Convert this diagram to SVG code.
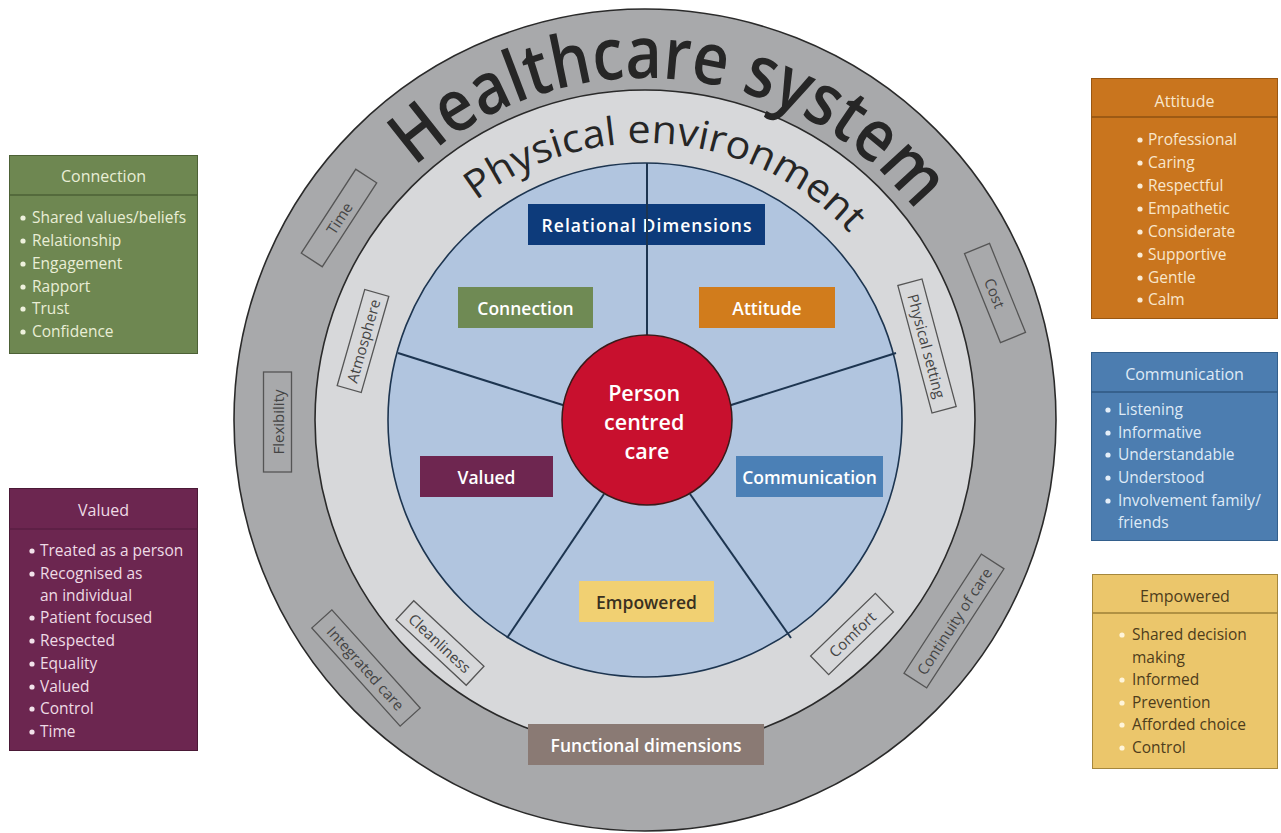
<svg xmlns="http://www.w3.org/2000/svg" width="1281" height="833" viewBox="0 0 1281 833">
  <defs>
    <style>
      .t { font-family: "Open Sans", "Noto Sans", "DejaVu Sans", sans-serif; }
      .ring-lbl rect { fill: none; stroke: #555555; stroke-width: 1.3; }
      .ring-lbl text { font-family: "Open Sans", "Noto Sans", sans-serif; font-size: 15px; fill: #444444; text-anchor: middle; dominant-baseline: central; }
      .dim rect { stroke: none; }
      .dim text { font-family: "Open Sans", "Noto Sans", sans-serif; font-size: 17.5px; font-weight: 600; text-anchor: middle; dominant-baseline: central; }
      .side .hdr { font-family: "Open Sans", "Noto Sans", sans-serif; font-size: 16px; text-anchor: middle; }
      .side .item { font-family: "Open Sans", "Noto Sans", sans-serif; font-size: 15.5px; }
      .spoke { stroke: #1d3550; stroke-width: 2; fill: none; }
    </style>
    <path id="arc-hs" d="M 303 420 A 342 342 0 1 1 981.8 479.4"/>
    <path id="arc-pe" d="M 368 420 A 277 277 0 1 1 917.8 468.1"/>
  </defs>

  <rect width="1281" height="833" fill="#ffffff"/>

  <!-- concentric rings -->
  <g id="rings">
    <circle cx="645" cy="420" r="411" fill="#a8a9ab" stroke="#2a2a2a" stroke-width="1.6"/>
    <circle cx="645" cy="420" r="330" fill="#d7d8da" stroke="#2a2a2a" stroke-width="1.6"/>
    <circle cx="645" cy="420" r="257" fill="#b1c5df" stroke="#1d3550" stroke-width="1.6"/>
  </g>

  <!-- ring titles -->
  <g id="ring-titles">
    <text class="t" font-size="72" font-weight="600" fill="#262626">
      <textPath href="#arc-hs" startOffset="50%" text-anchor="middle" textLength="565" lengthAdjust="spacingAndGlyphs">Healthcare system</textPath>
    </text>
    <text class="t" font-size="39" font-weight="400" fill="#262626">
      <textPath href="#arc-pe" startOffset="50%" text-anchor="middle" textLength="412" lengthAdjust="spacingAndGlyphs">Physical environment</textPath>
    </text>
  </g>

  <!-- outer ring factors -->
  <g id="lbl-time" class="ring-lbl" transform="translate(339 218) rotate(-57)">
    <rect x="-50" y="-12.5" width="100" height="25"/><text>Time</text>
  </g>
  <g id="lbl-flexibility" class="ring-lbl" transform="translate(277.5 422) rotate(-90)">
    <rect x="-50" y="-14" width="100" height="28"/><text>Flexibility</text>
  </g>
  <g id="lbl-integrated" class="ring-lbl" transform="translate(366 668) rotate(48)">
    <rect x="-66" y="-13.5" width="132" height="27"/><text>Integrated care</text>
  </g>
  <g id="lbl-continuity" class="ring-lbl" transform="translate(954 621) rotate(-57)">
    <rect x="-71" y="-13.5" width="142" height="27"/><text>Continuity of care</text>
  </g>
  <g id="lbl-cost" class="ring-lbl" transform="translate(995 293) rotate(68)">
    <rect x="-48" y="-13.5" width="96" height="27"/><text>Cost</text>
  </g>

  <!-- physical environment factors -->
  <g id="lbl-atmosphere" class="ring-lbl" transform="translate(363 341) rotate(-74)">
    <rect x="-50" y="-12.5" width="100" height="25"/><text>Atmosphere</text>
  </g>
  <g id="lbl-physical" class="ring-lbl" transform="translate(927 346) rotate(75)">
    <rect x="-66" y="-12.5" width="132" height="25"/><text>Physical setting</text>
  </g>
  <g id="lbl-cleanliness" class="ring-lbl" transform="translate(440 643) rotate(43)">
    <rect x="-48" y="-13" width="96" height="26"/><text>Cleanliness</text>
  </g>
  <g id="lbl-comfort" class="ring-lbl" transform="translate(852 634) rotate(-44)">
    <rect x="-45" y="-13" width="90" height="26"/><text>Comfort</text>
  </g>

  <!-- relational dimension tiles -->
  <g id="dim-relational" class="dim">
    <rect x="528" y="204" width="237" height="41" fill="#0d3b7b"/>
    <text x="646.5" y="224.5" fill="#ffffff" textLength="210" lengthAdjust="spacing">Relational Dimensions</text>
  </g>
  <g id="dim-connection" class="dim">
    <rect x="458" y="287" width="135" height="41" fill="#6f8a54"/>
    <text x="525.5" y="307.5" fill="#ffffff">Connection</text>
  </g>
  <g id="dim-attitude" class="dim">
    <rect x="699" y="287" width="136" height="41" fill="#d17c1c"/>
    <text x="767" y="307.5" fill="#ffffff">Attitude</text>
  </g>
  <g id="dim-valued" class="dim">
    <rect x="420" y="456" width="133" height="41" fill="#6e2650"/>
    <text x="486.5" y="476.5" fill="#ffffff">Valued</text>
  </g>
  <g id="dim-communication" class="dim">
    <rect x="736" y="456" width="147" height="41" fill="#4b80b6"/>
    <text x="809.5" y="476.5" fill="#ffffff">Communication</text>
  </g>
  <g id="dim-empowered" class="dim">
    <rect x="579" y="581" width="135" height="41" fill="#f1d072"/>
    <text x="646.5" y="601.5" fill="#3a3020">Empowered</text>
  </g>
  <g id="dim-functional" class="dim">
    <rect x="528" y="724" width="236" height="41" fill="#8a7a74" stroke="#5e524e" stroke-width="1"/>
    <text x="646" y="744.5" fill="#ffffff">Functional dimensions</text>
  </g>

  <!-- spokes dividing the relational circle -->
  <g id="connectors">
    <line class="spoke" x1="647" y1="335" x2="647" y2="163"/>
    <line class="spoke" x1="566" y1="406" x2="398" y2="353"/>
    <line class="spoke" x1="728" y1="406" x2="896" y2="353"/>
    <line class="spoke" x1="604" y1="494" x2="507" y2="638"/>
    <line class="spoke" x1="690" y1="494" x2="791" y2="638"/>
  </g>

  <!-- core -->
  <g id="core">
    <circle cx="647" cy="420" r="85" fill="#c8102e" stroke="#3a1a1a" stroke-width="1.5"/>
    <text class="t" x="647" font-size="21.5" font-weight="600" fill="#ffffff" text-anchor="middle">
      <tspan x="647" y="401">Person</tspan>
      <tspan x="647" y="430">centred</tspan>
      <tspan x="647" y="459">care</tspan>
    </text>
  </g>

  <!-- side legend: Connection -->
  <g id="side-connection" class="side">
    <rect x="9.5" y="155.5" width="188" height="198" fill="#6e8751" stroke="#4d6136" stroke-width="1"/>
    <line x1="9.5" y1="195" x2="197.5" y2="195" stroke="#4d6136" stroke-width="1.5"/>
    <text class="hdr" x="103.5" y="182" fill="#e9eed6">Connection</text>
    <g fill="#eef1dd">
      <circle cx="23" cy="218" r="2.6"/><circle cx="23" cy="241" r="2.6"/><circle cx="23" cy="264" r="2.6"/>
      <circle cx="23" cy="287" r="2.6"/><circle cx="23" cy="309" r="2.6"/><circle cx="23" cy="332" r="2.6"/>
    </g>
    <text class="item" fill="#e9eed6">
      <tspan x="32" y="223">Shared values/beliefs</tspan>
      <tspan x="32" y="246">Relationship</tspan>
      <tspan x="32" y="269">Engagement</tspan>
      <tspan x="32" y="292">Rapport</tspan>
      <tspan x="32" y="314">Trust</tspan>
      <tspan x="32" y="337">Confidence</tspan>
    </text>
  </g>

  <!-- side legend: Valued -->
  <g id="side-valued" class="side">
    <rect x="9.5" y="488.5" width="188" height="262" fill="#6c2650" stroke="#4a1936" stroke-width="1"/>
    <line x1="9.5" y1="529" x2="197.5" y2="529" stroke="#5a1f43" stroke-width="1.5"/>
    <text class="hdr" x="103.5" y="516" fill="#eedbe5">Valued</text>
    <g fill="#f2e2ea">
      <circle cx="32" cy="551" r="2.6"/><circle cx="32" cy="574" r="2.6"/><circle cx="32" cy="618" r="2.6"/>
      <circle cx="32" cy="641" r="2.6"/><circle cx="32" cy="664" r="2.6"/><circle cx="32" cy="687" r="2.6"/>
      <circle cx="32" cy="709" r="2.6"/><circle cx="32" cy="732" r="2.6"/>
    </g>
    <text class="item" fill="#eedbe5">
      <tspan x="40" y="556">Treated as a person</tspan>
      <tspan x="40" y="579">Recognised as</tspan>
      <tspan x="40" y="601">an individual</tspan>
      <tspan x="40" y="623">Patient focused</tspan>
      <tspan x="40" y="646">Respected</tspan>
      <tspan x="40" y="669">Equality</tspan>
      <tspan x="40" y="692">Valued</tspan>
      <tspan x="40" y="714">Control</tspan>
      <tspan x="40" y="737">Time</tspan>
    </text>
  </g>

  <!-- side legend: Attitude -->
  <g id="side-attitude" class="side">
    <rect x="1091.5" y="78.5" width="186" height="240" fill="#c9751e" stroke="#9a5712" stroke-width="1"/>
    <line x1="1091.5" y1="117" x2="1277.5" y2="117" stroke="#8e5212" stroke-width="1.5"/>
    <text class="hdr" x="1184.5" y="107" fill="#f8e6cc">Attitude</text>
    <g fill="#fbecd6">
      <circle cx="1140" cy="140" r="2.6"/><circle cx="1140" cy="163" r="2.6"/><circle cx="1140" cy="186" r="2.6"/>
      <circle cx="1140" cy="209" r="2.6"/><circle cx="1140" cy="232" r="2.6"/><circle cx="1140" cy="255" r="2.6"/>
      <circle cx="1140" cy="278" r="2.6"/><circle cx="1140" cy="300" r="2.6"/>
    </g>
    <text class="item" fill="#f8e6cc">
      <tspan x="1148" y="145">Professional</tspan>
      <tspan x="1148" y="168">Caring</tspan>
      <tspan x="1148" y="191">Respectful</tspan>
      <tspan x="1148" y="214">Empathetic</tspan>
      <tspan x="1148" y="237">Considerate</tspan>
      <tspan x="1148" y="260">Supportive</tspan>
      <tspan x="1148" y="283">Gentle</tspan>
      <tspan x="1148" y="305">Calm</tspan>
    </text>
  </g>

  <!-- side legend: Communication -->
  <g id="side-communication" class="side">
    <rect x="1091.5" y="352.5" width="186" height="188" fill="#4c7db0" stroke="#335f8c" stroke-width="1"/>
    <line x1="1091.5" y1="392" x2="1277.5" y2="392" stroke="#2f5882" stroke-width="1.5"/>
    <text class="hdr" x="1184.5" y="380" fill="#dfeaf6">Communication</text>
    <g fill="#e4eef8">
      <circle cx="1108" cy="410" r="2.6"/><circle cx="1108" cy="433" r="2.6"/><circle cx="1108" cy="455" r="2.6"/>
      <circle cx="1108" cy="478" r="2.6"/><circle cx="1108" cy="501" r="2.6"/>
    </g>
    <text class="item" fill="#dfeaf6">
      <tspan x="1118" y="415">Listening</tspan>
      <tspan x="1118" y="438">Informative</tspan>
      <tspan x="1118" y="460">Understandable</tspan>
      <tspan x="1118" y="483">Understood</tspan>
      <tspan x="1118" y="506">Involvement family/</tspan>
      <tspan x="1118" y="528">friends</tspan>
    </text>
  </g>

  <!-- side legend: Empowered -->
  <g id="side-empowered" class="side">
    <rect x="1092.5" y="574.5" width="185" height="194" fill="#ebc66b" stroke="#a5873c" stroke-width="1"/>
    <line x1="1092.5" y1="613" x2="1277.5" y2="613" stroke="#9c7f36" stroke-width="1.5"/>
    <text class="hdr" x="1185" y="602" fill="#4e3d1c">Empowered</text>
    <g fill="#fff5da">
      <circle cx="1122" cy="635" r="2.6"/><circle cx="1122" cy="680" r="2.6"/><circle cx="1122" cy="703" r="2.6"/>
      <circle cx="1122" cy="725" r="2.6"/><circle cx="1122" cy="748" r="2.6"/>
    </g>
    <text class="item" fill="#4e3d1c">
      <tspan x="1132" y="640">Shared decision</tspan>
      <tspan x="1132" y="663">making</tspan>
      <tspan x="1132" y="685">Informed</tspan>
      <tspan x="1132" y="708">Prevention</tspan>
      <tspan x="1132" y="730">Afforded choice</tspan>
      <tspan x="1132" y="753">Control</tspan>
    </text>
  </g>
</svg>
